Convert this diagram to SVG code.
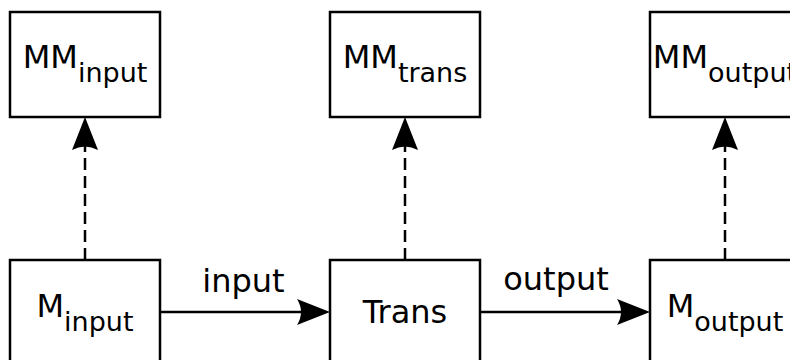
<svg xmlns="http://www.w3.org/2000/svg" width="790" height="360" viewBox="0 0 790 360">
<style>
.box{fill:#fff;stroke:#000;stroke-width:2.5}
.t{font-family:"DejaVu Sans",sans-serif;font-size:32px;fill:#000;text-anchor:middle}
.s{font-size:27px}
.ln{stroke:#000;stroke-width:2.5;fill:none}
.d{stroke-dasharray:12,6}
.ah{fill:#000;stroke:none}
</style>
<rect width="790" height="360" fill="#fff"/>
<g id="connectors">
<line class="ln d" x1="85" y1="260" x2="85" y2="140"/>
<path class="ah" d="M85,117 L72,150 Q85,143 98,150 Z"/>
<line class="ln d" x1="405" y1="260" x2="405" y2="140"/>
<path class="ah" d="M405,117 L392,150 Q405,143 418,150 Z"/>
<line class="ln d" x1="725" y1="260" x2="725" y2="140"/>
<path class="ah" d="M725,117 L712,150 Q725,143 738,150 Z"/>
<line class="ln" x1="160" y1="312" x2="305" y2="312"/>
<path class="ah" d="M330,312 L297,299 Q305,312 297,325 Z"/>
<text class="t" x="243.5" y="292">input</text>
<line class="ln" x1="480" y1="312" x2="625" y2="312"/>
<path class="ah" d="M650,312 L617,299 Q625,312 617,325 Z"/>
<text class="t" x="556" y="290">output</text>
</g>
<g id="MMinput">
<rect class="box" x="10" y="12" width="150" height="105"/>
<text class="t" x="85" y="68">MM<tspan class="s" dy="14">input</tspan></text>
</g>
<g id="MMtrans">
<rect class="box" x="330" y="12" width="150" height="105"/>
<text class="t" x="405" y="68">MM<tspan class="s" dy="14">trans</tspan></text>
</g>
<g id="MMoutput">
<rect class="box" x="650" y="12" width="150" height="105"/>
<text class="t" x="725" y="68">MM<tspan class="s" dy="14">output</tspan></text>
</g>
<g id="Minput">
<rect class="box" x="10" y="260" width="150" height="105"/>
<text class="t" x="85" y="317">M<tspan class="s" dy="14">input</tspan></text>
</g>
<g id="Trans">
<rect class="box" x="330" y="260" width="150" height="105"/>
<text class="t" x="405" y="323">Trans</text>
</g>
<g id="Moutput">
<rect class="box" x="650" y="260" width="150" height="105"/>
<text class="t" x="725" y="317">M<tspan class="s" dy="14">output</tspan></text>
</g>
</svg>
